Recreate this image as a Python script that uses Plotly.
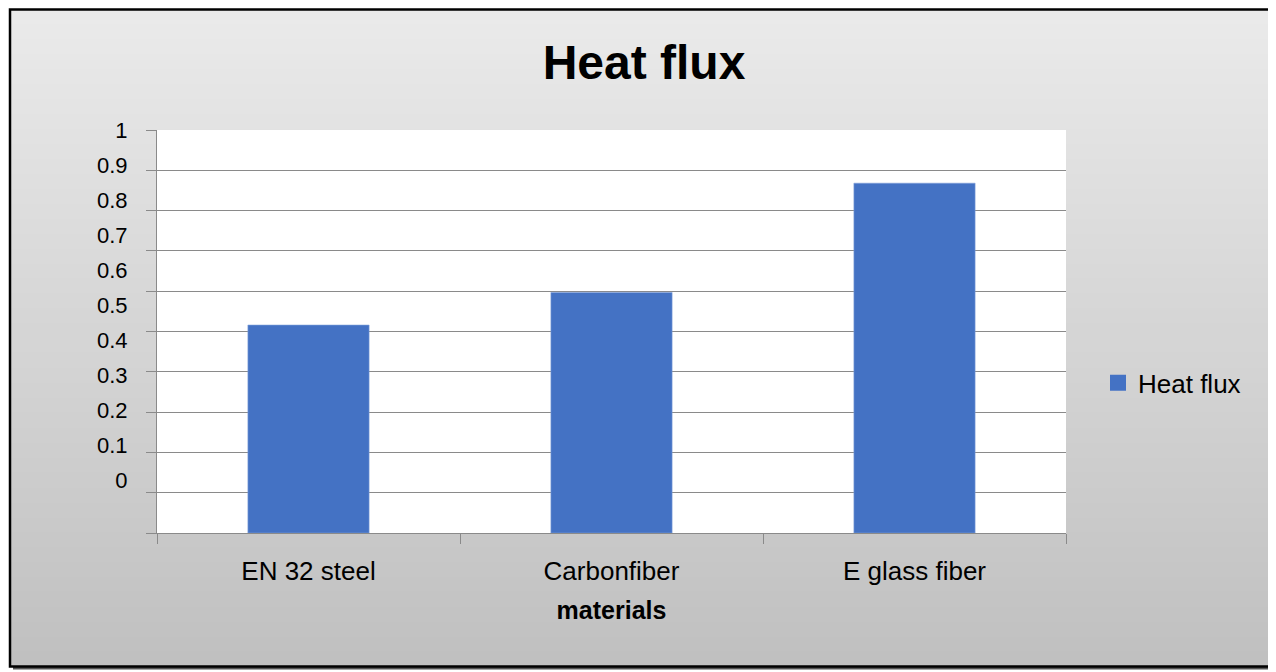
import plotly.graph_objects as go

# ---- data ----
categories = ["EN 32 steel", "Carbonfiber", "E glass fiber"]
heat_flux = [0.516, 0.597, 0.868]
series_name = "Heat flux"
label_values = [0, 0.1, 0.2, 0.3, 0.4, 0.5, 0.6, 0.7, 0.8, 0.9, 1]
label_texts = ["0", "0.1", "0.2", "0.3", "0.4", "0.5", "0.6", "0.7", "0.8", "0.9", "1"]

OFF = 8  # page body margin
W, H = 1276 - OFF, 672 - OFF
# plot area in reference pixels
PL, PR, PT, PB = 157, 1066, 130, 533.3
L, R, T, B = PL - OFF, W - (PR - OFF), PT - OFF, H - (PB - OFF)
PW, PH = PR - PL, PB - PT
FONT = "Liberation Sans, Arial, sans-serif"
BLUE = "#4472C4"
GRID = "#8a8a8a"


def px_x(p):
    return (p - PL) / PW


def px_y(p):
    return (PB - p) / PH


fig = go.Figure()
fig.add_trace(go.Bar(x=categories, y=heat_flux, name=series_name, width=0.4,
                     marker=dict(color=BLUE, line=dict(color="#7f9fd8", width=0.6)),
                     showlegend=False, yaxis="y"))
fig.add_trace(go.Scatter(x=[None], y=[None], mode="markers", name=series_name,
                         marker=dict(symbol="square", size=16, color=BLUE), showlegend=True))
# invisible trace to host the label axis
fig.add_trace(go.Scatter(x=[None], y=[None], yaxis="y2", showlegend=False, hoverinfo="skip"))

# gradient background frame
shapes = []
x0, x1, y0, y1 = 10, 1273, 9.5, 667
shapes.append(dict(type="rect", xref="paper", yref="paper",
                   x0=px_x(x0 + 3), x1=px_x(x1 + 3), y0=px_y(y1 + 3), y1=px_y(y0 + 3),
                   fillcolor="#555555", line=dict(width=0), layer="below"))
top_c, bot_c = 234, 192
# solid base so no seams show
shapes.append(dict(type="rect", xref="paper", yref="paper",
                   x0=px_x(x0), x1=px_x(x1), y0=px_y(y1), y1=px_y(y0),
                   fillcolor=f"rgb({(top_c + bot_c) // 2},{(top_c + bot_c) // 2},{(top_c + bot_c) // 2})",
                   line=dict(width=0), layer="below"))
n = 44
for i in range(n):
    a = round(y0 + (y1 - y0) * i / n) + OFF % 1
    b = round(y0 + (y1 - y0) * (i + 1) / n) + 2
    b = min(b, y1)
    c = round(top_c + (bot_c - top_c) * (i + 0.5) / n)
    shapes.append(dict(type="rect", xref="paper", yref="paper",
                       x0=px_x(x0), x1=px_x(x1), y0=px_y(b), y1=px_y(a),
                       fillcolor=f"rgb({c},{c},{c})", line=dict(width=0), layer="below"))
shapes.append(dict(type="rect", xref="paper", yref="paper",
                   x0=px_x(x0), x1=px_x(x1), y0=px_y(y1), y1=px_y(y0),
                   fillcolor="rgba(0,0,0,0)", line=dict(color="#000000", width=2.5), layer="above"))
# white plot area
shapes.append(dict(type="rect", xref="paper", yref="paper", x0=0, x1=1, y0=0, y1=1,
                   fillcolor="white", line=dict(width=0), layer="below"))

# label axis range: 0 at y=480.3, 1 at y=130 (reference px)
span = 480.3 - 130.0
bottom_val = -(PB - 480.3) / span

fig.update_layout(
    width=W, height=H,
    margin=dict(l=L, r=R, t=T, b=B, autoexpand=False),
    paper_bgcolor="white",
    plot_bgcolor="rgba(0,0,0,0)",
    font=dict(family=FONT, color="#000000"),
    shapes=shapes,
    title=dict(text="<b>Heat flux</b>", x=(644 - OFF) / W, xref="container", xanchor="center",
               y=1 - (62 - OFF) / H, yref="container", yanchor="middle",
               font=dict(size=48, family=FONT, color="#000000")),
    showlegend=True,
    legend=dict(x=px_x(1098), xanchor="left", y=px_y(383), yanchor="middle",
                bgcolor="rgba(0,0,0,0)", itemwidth=30,
                font=dict(size=26, family=FONT, color="#000000")),
    xaxis=dict(type="category", showgrid=False, showline=True, linecolor=GRID, linewidth=1.3,
               ticks="outside", tickson="boundaries", ticklen=10, tickcolor=GRID, tickwidth=1.3,
               tickfont=dict(size=26, family=FONT, color="#000000"), ticklabelstandoff=15,
               title=dict(text="<b>materials</b>", font=dict(size=25, family=FONT, color="#000000"),
                          standoff=16),
               range=[-0.5, 2.5]),
    yaxis=dict(range=[0, 1], dtick=0.1, showgrid=True, gridcolor=GRID, gridwidth=1.3,
               showline=True, linecolor=GRID, linewidth=1.3, zeroline=False,
               ticks="outside", ticklen=10, tickcolor=GRID, tickwidth=1.3,
               showticklabels=False),
    yaxis2=dict(overlaying="y", side="left", range=[bottom_val, 1],
                tickmode="array", tickvals=label_values, ticktext=label_texts,
                showgrid=False, zeroline=False, showline=False,
                ticks="outside", ticklen=24, tickcolor="rgba(0,0,0,0)",
                tickfont=dict(size=22, family=FONT, color="#000000")),
)

fig.write_html("out.html")
